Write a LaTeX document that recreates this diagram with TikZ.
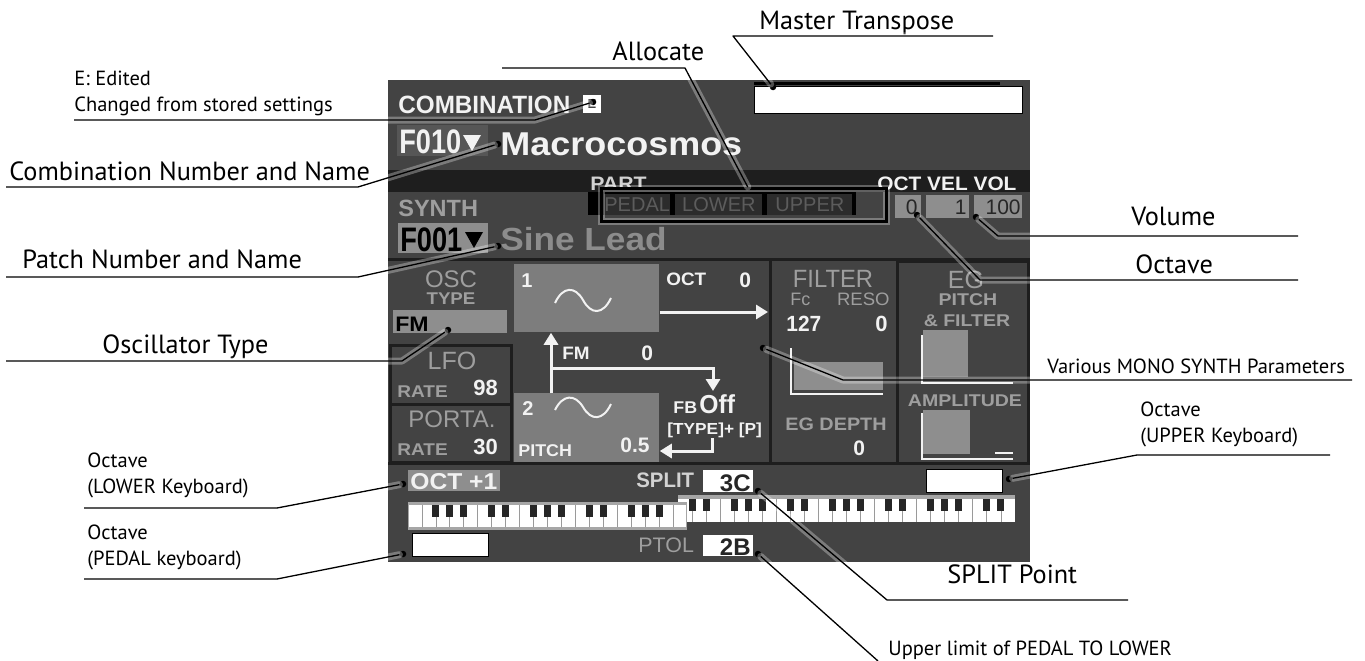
\documentclass[tikz,border=0pt]{standalone}
\usepackage{fontspec}
\setmainfont{PT Sans}
\newfontfamily\lcdfont{Liberation Sans}
\usetikzlibrary{arrows.meta,positioning,calc}
\newcommand\lcdtype[2]{\lcdfont\bfseries\addfontfeatures{FakeStretch=#1}\fontsize{#2}{#2}\selectfont}
\newcommand\lcdthin[2]{\lcdfont\addfontfeatures{FakeStretch=#1}\fontsize{#2}{#2}\selectfont}
\definecolor{scr}{HTML}{434343}
\definecolor{bar}{HTML}{1E1E1E}
\definecolor{lcdwhite}{HTML}{F2F2F2}
\definecolor{lcdgray}{HTML}{9E9E9E}
\definecolor{numbg}{HTML}{565656}
\definecolor{cellgray}{HTML}{8E8E8E}
\definecolor{celldark}{HTML}{2C2C2C}
\definecolor{celltxt}{HTML}{262626}
\definecolor{parttxt}{HTML}{5C5C5C}
\definecolor{partgray}{HTML}{D2D2D2}
\definecolor{sinegray}{HTML}{8C8C8C}
\definecolor{oscgray}{HTML}{7D7D7D}
\definecolor{keybar}{HTML}{A6A6A6}
\definecolor{keysep}{HTML}{9A9A9A}
\tikzset{every picture/.style={line width=0.75pt},
  lbl/.style={anchor=base west, inner sep=0pt, font=\fontsize{26.3}{30}\selectfont},
  sublbl/.style={anchor=base west, inner sep=0pt, align=left, font=\fontsize{20.5}{25.5}\selectfont},
  lcd/.style={anchor=base west, inner sep=0pt, text=lcdwhite},
  dim/.style={lcd, text=lcdgray},
  leader/.style={draw=black, line width=1.3pt, line join=round,
    preaction={draw=white, line width=7pt, opacity=0.3, line cap=round, line join=round}},
  tipdot/.style={circle, fill=black, inner sep=0pt, minimum size=6.5pt},
  wire/.style={draw=lcdwhite, line width=3pt},
  wirearrow/.style={-{Triangle[length=12pt, width=14pt]}},
  whitebox/.style={anchor=north west, inner sep=0pt, fill=white},
  panelrule/.style={draw=bar, line width=3pt},
  keyline/.style={draw=keysep, line width=0.8pt}}

\begin{document}
\begin{tikzpicture}[x=1pt, y=-1pt]
    % 画布
    \useasboundingbox (0,0) rectangle (1365,661);
    \fill[white] (0,0) rectangle (1365,661);

    % 屏幕底色
    \fill[scr] (388,80) rectangle (1030,562);
    \fill[bar] (388,170) rectangle (1030,192);

    % 组合名称
    \node[lcd, font=\lcdtype{0.97}{25}] (combo) at (398,113) {COMBINATION};
    \node[fill=white, text=scr, inner sep=0pt, minimum size=18pt, font=\lcdtype{1}{13}] (ebox) at (592,104) {E};
    \fill[numbg] (397,125) rectangle (488,156);
    \node[lcd, font=\lcdtype{0.8}{34}] (combnum) at (399,153) {F010};
    \fill[lcdwhite] (463,135) -- (481,135) -- (472,151) -- cycle;
    \node[lcd, font=\lcdtype{1.09}{33}] (combname) at (500,155) {Macrocosmos};

    % 主移调
    \draw[black, line width=3pt] (754,83) -- (1000,83);
    \node[whitebox, draw=black, minimum width=268pt, minimum height=27pt] (mtbox) at (754,86) {};

    % 声部分配
    \node[lcd, text=partgray, font=\lcdtype{1.09}{19.5}] (part) at (590,190) {PART};
    \node[lcd, font=\lcdtype{1.07}{19.5}] (octvelvol) at (877,190) {OCT VEL VOL};
    \fill[black] (588,192) rectangle (856,215);
    \node[whitebox, fill=celldark, text=parttxt, minimum width=64pt, minimum height=21pt, font=\lcdthin{1}{20}] (pedal) at (604,194) {PEDAL};
    \node[whitebox, fill=celldark, text=parttxt, minimum width=87pt, minimum height=21pt, font=\lcdthin{1}{20}] (lower) at (675,194) {LOWER};
    \node[whitebox, fill=celldark, text=parttxt, minimum width=85pt, minimum height=21pt, font=\lcdthin{1}{20}] (upper) at (767,194) {UPPER};
    \node[whitebox, fill=none, draw=black, line width=2.5pt, minimum width=285pt, minimum height=33pt,
      preaction={draw=white, line width=7pt, opacity=0.3}] (alloc) at (600,187) {};

    % OCT VEL VOL 数值
    \fill[cellgray] (895,195) rectangle (921,218);
    \fill[cellgray] (926,195) rectangle (969,218);
    \fill[cellgray] (974,195) rectangle (1022,218);
    \node[lcd, anchor=base east, text=celltxt, font=\lcdthin{1}{21}] (octval) at (918,214) {0};
    \node[lcd, anchor=base east, text=celltxt, font=\lcdthin{1}{21}] (velval) at (967,214) {1};
    \node[lcd, anchor=base east, text=celltxt, font=\lcdthin{1}{21}] (volval) at (1021,214) {100};

    % 音色
    \node[dim, font=\lcdtype{1}{23.5}] (synth) at (398,216) {SYNTH};
    \fill[cellgray] (398,223) rectangle (488,253);
    \node[lcd, text=black, font=\lcdtype{0.8}{34}] (patchnum) at (400,251) {F001};
    \fill[black] (465,232) -- (483,232) -- (474,248) -- cycle;
    \node[lcd, text=sinegray, font=\lcdtype{1.1}{32}] (patchname) at (500,250) {Sine Lead};

    % 中部面板边框
    \draw[panelrule] (388,259) -- (1030,259);
    \draw[panelrule] (388,463) -- (1030,463);
    \draw[panelrule] (390,345) rectangle (511,462);
    \draw[panelrule] (390,404) -- (511,404);
    \draw[panelrule] (770,259) -- (770,463);
    \draw[panelrule] (897,261) rectangle (1028,463);

    % OSC TYPE / LFO / PORTA.
    \node[dim, anchor=base, font=\lcdthin{1}{24}] (osc) at (451,287) {OSC};
    \node[dim, anchor=base, font=\lcdtype{1.1}{17}] (osctype) at (451,304) {TYPE};
    \fill[cellgray] (393,310) rectangle (507,333);
    \node[lcd, text=black, font=\lcdtype{1.1}{21}] (fm) at (395,331) {FM};
    \node[dim, anchor=base, font=\lcdthin{1}{25}] (lfo) at (452,369) {LFO};
    \node[dim, font=\lcdtype{1.12}{17}] (lforate) at (397,397) {RATE};
    \node[lcd, font=\lcdtype{1}{22}] (lfoval) at (473,395) {98};
    \node[dim, anchor=base, font=\lcdthin{1}{24}] (porta) at (452,427) {PORTA.};
    \node[dim, font=\lcdtype{1.12}{17}] (portarate) at (397,455) {RATE};
    \node[lcd, font=\lcdtype{1}{22}] (portaval) at (473,454) {30};

    % 振荡器 1 与 2
    \node[whitebox, fill=oscgray, minimum width=145pt, minimum height=68pt] (osc1) at (514,264) {};
    \node[whitebox, fill=oscgray, minimum width=145pt, minimum height=69pt] (osc2) at (514,393) {};
    \node[lcd, font=\lcdtype{1}{20}] (oscone) at (521,287) {1};
    \node[lcd, font=\lcdtype{1}{20}] (osctwo) at (522,415) {2};
    \draw[wire, line width=2pt] (555,303) .. controls (563,286) and (575,286) .. (583,300) .. controls (591,315) and (603,315) .. (611,298);
    \draw[wire, line width=2pt] (555,410) .. controls (563,394) and (575,394) .. (583,407) .. controls (591,421) and (603,421) .. (611,404);
    \node[lcd, font=\lcdtype{1.05}{18}] (octlbl) at (666,285) {OCT};
    \node[lcd, font=\lcdtype{1}{21}] (octnum) at (739,287) {0};
    \node[lcd, font=\lcdtype{1.05}{18}] (fmlbl) at (562,359) {FM};
    \node[lcd, font=\lcdtype{1}{21}] (fmnum) at (641,360) {0};
    \node[lcd, font=\lcdtype{1.05}{17}] (pitchlbl) at (518,456) {PITCH};
    \node[lcd, font=\lcdtype{1}{21}] (pitchnum) at (620,452) {0.5};
    \node[lcd, font=\lcdtype{1.05}{17}] (fblbl) at (673,413) {FB};
    \node[lcd, font=\lcdtype{0.95}{26}] (fbval) at (699,413) {Off};
    \node[lcd, font=\lcdtype{1.08}{16}] (fbkey) at (667,434) {[TYPE]+ [P]};
    \coordinate (outR) at (768,312);
    \coordinate (fmX) at (551,368);
    \coordinate (fbX) at (713,391);
    \coordinate (retY) at (712,438);
    \draw[wire, wirearrow] (osc1.east |- outR) -- (outR);
    \draw[wire, wirearrow] (osc2.north -| fmX) -- (osc1.south -| fmX);
    \draw[wire, wirearrow] (fmX) -| (fbX);
    \draw[wire, wirearrow] (retY) |- (osc2.east |- 0,451);

    % FILTER 面板
    \node[dim, anchor=base, font=\lcdthin{0.95}{25}] (filter) at (833,287) {FILTER};
    \node[dim, font=\lcdthin{1}{18}] (fc) at (790,305) {Fc};
    \node[dim, anchor=base east, font=\lcdthin{1.03}{18}] (reso) at (890,305) {RESO};
    \node[lcd, font=\lcdtype{0.95}{22}] (fcval) at (786,331) {127};
    \node[lcd, anchor=base east, font=\lcdtype{1}{22}] (resoval) at (888,331) {0};
    \fill[cellgray] (794,362) rectangle (883,390);
    \draw[wire, line width=2.5pt] (791,348) -- (791,394) -- (883,394);
    \node[dim, anchor=base, font=\lcdtype{1.1}{18}] (egdepth) at (836,430) {EG DEPTH};
    \node[lcd, font=\lcdtype{1}{21}] (egdval) at (853,455) {0};

    % EG 面板
    \node[dim, anchor=base, font=\lcdthin{1}{25}] (eg) at (966,288) {EG};
    \node[dim, anchor=base, font=\lcdtype{1.15}{17}] (egpitch) at (968,305) {PITCH};
    \node[dim, anchor=base, font=\lcdtype{1.15}{17}] (egfilter) at (967,326) {\& FILTER};
    \fill[cellgray] (923,330) rectangle (968,377);
    \draw[wire, line width=2.5pt] (922,335) -- (922,383) -- (1013,383);
    \node[dim, anchor=base, font=\lcdtype{1.15}{17}] (amp) at (965,406) {AMPLITUDE};
    \fill[cellgray] (923,410) rectangle (970,454);
    \draw[wire, line width=2.5pt] (922,413) -- (922,459) -- (1013,459);
    \draw[wire, line width=1.5pt] (995,453) -- (1013,453);

    % 下部: 八度与分割点
    \fill[cellgray] (408,470) rectangle (500,491);
    \node[lcd, font=\lcdtype{1.07}{23}] (lowoct) at (410,489) {OCT +1};
    \node[lcd, text=partgray, font=\lcdtype{0.97}{21}] (split) at (636,487) {SPLIT};
    \node[whitebox, minimum width=50pt, minimum height=22pt] (splitbox) at (703,470) {};
    \node[lcd, anchor=base east, text=celltxt, font=\lcdtype{1}{24}] (splitval) at (751,491) {3C};
    \node[whitebox, draw=black, line width=1.2pt, minimum width=76pt, minimum height=23pt] (upbox) at (926,469) {};
    \node[whitebox, draw=black, line width=1.2pt, minimum width=76pt, minimum height=23pt] (pedbox) at (412,533) {};
    \node[lcd, text=lcdgray, font=\lcdthin{1.02}{21}] (ptol) at (638,552) {PTOL};
    \node[whitebox, minimum width=50pt, minimum height=21pt] (ptolbox) at (703,535) {};
    \node[lcd, anchor=base east, text=celltxt, font=\lcdtype{1}{24}] (ptolval) at (751,555) {2B};

    % 上键盘
    \fill[keybar] (678,495) rectangle (1015,499);
    \fill[white] (678,499) rectangle (1015,522);
    \foreach \k in {1,...,23}
        \draw[keyline] ({678+14.04*\k},499) -- ({678+14.04*\k},522);
    \foreach \k in {1,2,4,5,6,8,9,11,12,13,15,16,18,19,20,22,23}
        \fill[black!85] ({678+14.04*\k-3.5},499) rectangle ({678+14.04*\k+3.5},511);

    % 下键盘
    \fill[keybar] (408,502) rectangle (687,530);
    \fill[white] (409,505) rectangle (686,527);
    \foreach \k in {1,...,19}
        \draw[keyline] ({408+13.95*\k},505) -- ({408+13.95*\k},527);
    \foreach \k in {2,3,4,6,7,9,10,11,13,14,16,17,18}
        \fill[black!85] ({408+13.95*\k-3.5},505) rectangle ({408+13.95*\k+3.5},517);

    % 引线端点
    \node[tipdot] (dE) at (593,102) {};
    \node[tipdot] (dComb) at (498,144) {};
    \node[tipdot] (dPatch) at (498,246) {};
    \node[tipdot] (dOsc) at (448,330) {};
    \node[tipdot] (dLow) at (403,484) {};
    \node[tipdot] (dPed) at (403,554) {};
    \node[tipdot] (dMt) at (773,87) {};
    \node[tipdot] (dVol) at (976,217) {};
    \node[tipdot] (dOct) at (917,215) {};
    \node[tipdot] (dMono) at (763,348) {};
    \node[tipdot] (dUp) at (1009,479) {};
    \node[tipdot] (dSplit) at (758,491) {};
    \node[tipdot] (dPtol) at (758,554) {};

    % 左侧标注
    \node[sublbl] (lblE) at (74,111) {E: Edited\\Changed from stored settings};
    \node[lbl] (lblComb) at (9,180) {Combination Number and Name};
    \node[lbl] (lblPatch) at (22,268) {Patch Number and Name};
    \node[lbl] (lblOsc) at (102,353) {Oscillator Type};
    \node[sublbl] (lblLow) at (87,493) {Octave\\(LOWER Keyboard)};
    \node[sublbl] (lblPed) at (87,565) {Octave\\(PEDAL keyboard)};

    % 上方与右侧标注
    \node[lbl] (lblAlloc) at (612,61) {Allocate};
    \node[lbl] (lblMt) at (759,30) {Master Transpose};
    \node[lbl] (lblVol) at (1131,225) {Volume};
    \node[lbl] (lblOct) at (1135,273) {Octave};
    \node[sublbl] (lblMono) at (1047,373) {Various MONO SYNTH Parameters};
    \node[sublbl] (lblUp) at (1140,442) {Octave\\(UPPER Keyboard)};
    \node[lbl] (lblSplit) at (947,583) {SPLIT Point};
    \node[sublbl] (lblPtol) at (888,655) {Upper limit of PEDAL TO LOWER};

    % 引线
    \coordinate (uE) at (74,120);      \coordinate (kE) at (535,120);
    \coordinate (uComb) at (6,187);    \coordinate (kComb) at (358,187);
    \coordinate (uPatch) at (6,277);   \coordinate (kPatch) at (358,277);
    \coordinate (uOsc) at (6,361);     \coordinate (kOsc) at (402,361);
    \coordinate (uLow) at (84,508);    \coordinate (kLow) at (277,508);
    \coordinate (uPed) at (84,579);    \coordinate (kPed) at (277,579);
    \coordinate (uAlloc) at (502,68);  \coordinate (kAlloc) at (685,68);
    \coordinate (uMt) at (993,36);     \coordinate (kMt) at (733,36);
    \coordinate (uVol) at (1298,236);  \coordinate (kVol) at (998,236);
    \coordinate (uOct) at (1298,280);  \coordinate (kOct) at (980,280);
    \coordinate (uMono) at (1352,380); \coordinate (kMono) at (843,380);
    \coordinate (uUp) at (1330,455);   \coordinate (kUp) at (1137,455);
    \coordinate (uSplit) at (1128,600); \coordinate (kSplit) at (887,600);
    \coordinate (kPtol) at (878,661);
    \draw[leader] (uE) -- (kE) -- (dE);
    \draw[leader] (uComb) -- (kComb) -- (dComb);
    \draw[leader] (uPatch) -- (kPatch) -- (dPatch);
    \draw[leader] (uOsc) -- (kOsc) -- (dOsc);
    \draw[leader] (uLow) -- (kLow) -- (dLow);
    \draw[leader] (uPed) -- (kPed) -- (dPed);
    \draw[leader] (uAlloc) -- (kAlloc) -- ($(alloc.north)+(4,0)$);
    \draw[leader] (uMt) -- (kMt) -- (dMt);
    \draw[leader] (uVol) -- (kVol) -- (dVol);
    \draw[leader] (uOct) -- (kOct) -- (dOct);
    \draw[leader] (uMono) -- (kMono) -- (dMono);
    \draw[leader] (uUp) -- (kUp) -- (dUp);
    \draw[leader] (uSplit) -- (kSplit) -- (dSplit);
    \draw[leader] (kPtol) -- (dPtol);
\end{tikzpicture}
\end{document}
